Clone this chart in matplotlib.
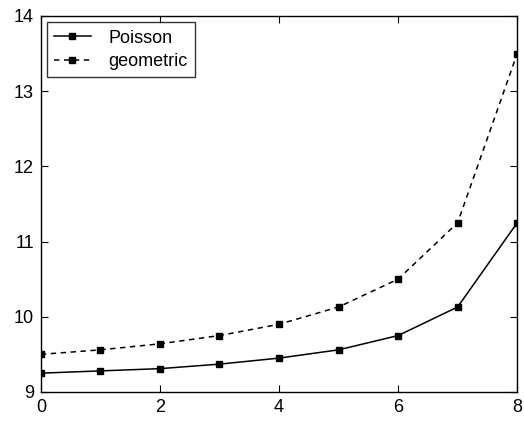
import matplotlib
matplotlib.use("Agg")
import matplotlib.pyplot as plt
import numpy as np

# data
x = np.arange(0, 9)
poisson = [9.25, 9.28, 9.31, 9.37, 9.45, 9.56, 9.75, 10.13, 11.25]
geometric = [9.50, 9.56, 9.64, 9.75, 9.90, 10.13, 10.50, 11.25, 13.50]
xticks = [0, 2, 4, 6, 8]
yticks = [9, 10, 11, 12, 13, 14]

plt.rcParams['font.family'] = ['Liberation Sans', 'DejaVu Sans']
plt.rcParams['font.size'] = 13

fig = plt.figure(figsize=(5.24, 4.21), dpi=100)
ax = fig.add_axes([0.078, 0.069, 0.909, 0.893])

ax.plot(x, poisson, 'k-', marker='s', markersize=5, linewidth=1.1, label='Poisson')
ax.plot(x, geometric, 'k--', marker='s', markersize=5, linewidth=1.1,
        dashes=(3.5, 3), label='geometric')

ax.set_xlim(0, 8)
ax.set_ylim(9, 14)
ax.set_xticks(xticks)
ax.set_yticks(yticks)
ax.tick_params(direction='in', top=True, right=True, length=5, labelsize=13, pad=5)
for s in ax.spines.values():
    s.set_linewidth(1.0)

leg = ax.legend(loc='upper left', fontsize=13, frameon=True, fancybox=False,
                edgecolor='black', handlelength=2.0, handletextpad=1.0,
                borderaxespad=0.35, borderpad=0.4, labelspacing=0.35)
leg.get_frame().set_linewidth(1.0)

plt.savefig('out.png', dpi=100)
